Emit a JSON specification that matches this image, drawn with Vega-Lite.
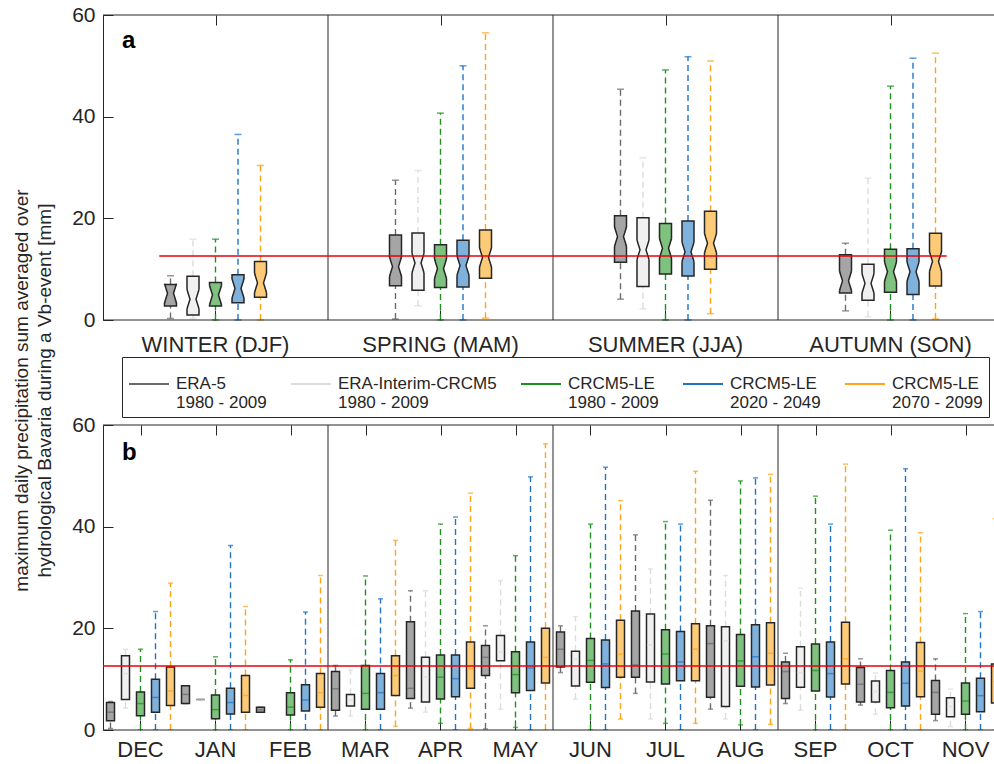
{
  "$schema": "https://vega.github.io/schema/vega-lite/v6.json",
  "background": "white",
  "padding": {"left": 12, "top": 4, "right": 0, "bottom": 0},
  "bounds": "flush",
  "spacing": 105,
  "config": {
    "font": "Liberation Sans, Arial, Helvetica, sans-serif",
    "view": {"stroke": null},
    "axis": {"grid": false, "domain": false, "ticks": true, "tickColor": "#262626", "tickWidth": 1, "tickSize": -10, "labelColor": "#262626", "labelFontSize": 21, "titleColor": "#262626"},
    "axisLeft": {"domain": true, "domainColor": "#262626", "domainWidth": 1, "labelPadding": 18, "labelFontSize": 21, "titleFontSize": 19, "titleFontWeight": "normal", "titleLineHeight": 23, "titleAngle": -90, "titleX": -91, "titleY": 375, "titleAlign": "center", "titleBaseline": "top"}
  },
  "resolve": {"scale": {"xOffset": "independent", "color": "shared", "fill": "shared"}},
  "datasets": {
    "seasons": [
      {"p": "WINTER (DJF)", "s": "ERA-5|1980 - 2009", "lo": 0.3, "q1": 2.75, "md": 5.25, "q3": 7.0, "hi": 8.7},
      {"p": "WINTER (DJF)", "s": "ERA-Interim-CRCM5|1980 - 2009", "lo": 0.3, "q1": 1.0, "md": 4.1, "q3": 8.6, "hi": 15.9},
      {"p": "WINTER (DJF)", "s": "CRCM5-LE|1980 - 2009", "lo": 0, "q1": 2.75, "md": 4.9, "q3": 7.4, "hi": 15.9},
      {"p": "WINTER (DJF)", "s": "CRCM5-LE|2020 - 2049", "lo": 0, "q1": 3.4, "md": 6.2, "q3": 8.9, "hi": 36.5},
      {"p": "WINTER (DJF)", "s": "CRCM5-LE|2070 - 2099", "lo": 0, "q1": 4.5, "md": 7.3, "q3": 11.5, "hi": 30.4},
      {"p": "SPRING (MAM)", "s": "ERA-5|1980 - 2009", "lo": 0.2, "q1": 6.75, "md": 10.5, "q3": 16.7, "hi": 27.5},
      {"p": "SPRING (MAM)", "s": "ERA-Interim-CRCM5|1980 - 2009", "lo": 2.8, "q1": 5.85, "md": 11.2, "q3": 17.1, "hi": 29.4},
      {"p": "SPRING (MAM)", "s": "CRCM5-LE|1980 - 2009", "lo": 0, "q1": 6.4, "md": 10.1, "q3": 14.8, "hi": 40.7},
      {"p": "SPRING (MAM)", "s": "CRCM5-LE|2020 - 2049", "lo": 0, "q1": 6.5, "md": 10.7, "q3": 15.7, "hi": 50.0},
      {"p": "SPRING (MAM)", "s": "CRCM5-LE|2070 - 2099", "lo": 0.35, "q1": 8.2, "md": 12.3, "q3": 17.7, "hi": 56.5},
      {"p": "SUMMER (JJA)", "s": "ERA-5|1980 - 2009", "lo": 4.1, "q1": 11.35, "md": 16.4, "q3": 20.5, "hi": 45.4},
      {"p": "SUMMER (JJA)", "s": "ERA-Interim-CRCM5|1980 - 2009", "lo": 2.2, "q1": 6.6, "md": 13.8, "q3": 20.1, "hi": 31.9},
      {"p": "SUMMER (JJA)", "s": "CRCM5-LE|1980 - 2009", "lo": 0, "q1": 9.05, "md": 14.1, "q3": 19.0, "hi": 49.2},
      {"p": "SUMMER (JJA)", "s": "CRCM5-LE|2020 - 2049", "lo": 0, "q1": 8.65, "md": 13.4, "q3": 19.5, "hi": 51.8},
      {"p": "SUMMER (JJA)", "s": "CRCM5-LE|2070 - 2099", "lo": 1.25, "q1": 10.0, "md": 15.1, "q3": 21.4, "hi": 50.95},
      {"p": "AUTUMN (SON)", "s": "ERA-5|1980 - 2009", "lo": 1.8, "q1": 5.3, "md": 7.7, "q3": 12.85, "hi": 15.1},
      {"p": "AUTUMN (SON)", "s": "ERA-Interim-CRCM5|1980 - 2009", "lo": 0.65, "q1": 3.9, "md": 7.2, "q3": 10.95, "hi": 27.9},
      {"p": "AUTUMN (SON)", "s": "CRCM5-LE|1980 - 2009", "lo": 0, "q1": 5.45, "md": 9.5, "q3": 13.9, "hi": 46.0},
      {"p": "AUTUMN (SON)", "s": "CRCM5-LE|2020 - 2049", "lo": 0, "q1": 5.0, "md": 9.5, "q3": 14.0, "hi": 51.5},
      {"p": "AUTUMN (SON)", "s": "CRCM5-LE|2070 - 2099", "lo": 0.2, "q1": 6.7, "md": 11.5, "q3": 17.05, "hi": 52.5}
    ],
    "months": [
      {"p": "DEC", "s": "ERA-5|1980 - 2009", "lo": 0.3, "q1": 1.8, "md": 3.5, "q3": 5.4, "hi": 5.6},
      {"p": "DEC", "s": "ERA-Interim-CRCM5|1980 - 2009", "lo": 4.3, "q1": 6.0, "md": 11.1, "q3": 14.6, "hi": 15.9},
      {"p": "DEC", "s": "CRCM5-LE|1980 - 2009", "lo": 0, "q1": 2.8, "md": 5.2, "q3": 7.5, "hi": 15.9},
      {"p": "DEC", "s": "CRCM5-LE|2020 - 2049", "lo": 0, "q1": 3.5, "md": 6.4, "q3": 10.0, "hi": 23.3},
      {"p": "DEC", "s": "CRCM5-LE|2070 - 2099", "lo": 0, "q1": 4.8, "md": 7.7, "q3": 12.4, "hi": 28.9},
      {"p": "JAN", "s": "ERA-5|1980 - 2009", "lo": 5.2, "q1": 5.2, "md": 7.0, "q3": 8.7, "hi": 8.7},
      {"p": "JAN", "s": "ERA-Interim-CRCM5|1980 - 2009", "lo": 6.0, "q1": 6.0, "md": 6.0, "q3": 6.0, "hi": 6.0},
      {"p": "JAN", "s": "CRCM5-LE|1980 - 2009", "lo": 0, "q1": 2.2, "md": 4.0, "q3": 6.9, "hi": 14.4},
      {"p": "JAN", "s": "CRCM5-LE|2020 - 2049", "lo": 0, "q1": 3.15, "md": 5.4, "q3": 8.2, "hi": 36.3},
      {"p": "JAN", "s": "CRCM5-LE|2070 - 2099", "lo": 0, "q1": 3.5, "md": 6.8, "q3": 10.7, "hi": 24.3},
      {"p": "FEB", "s": "ERA-5|1980 - 2009", "lo": 3.5, "q1": 3.5, "md": 4.0, "q3": 4.5, "hi": 4.5},
      {"p": "FEB", "s": "CRCM5-LE|1980 - 2009", "lo": 0, "q1": 2.95, "md": 4.5, "q3": 7.35, "hi": 13.8},
      {"p": "FEB", "s": "CRCM5-LE|2020 - 2049", "lo": 0, "q1": 3.75, "md": 5.9, "q3": 8.9, "hi": 23.2},
      {"p": "FEB", "s": "CRCM5-LE|2070 - 2099", "lo": 0, "q1": 4.5, "md": 7.35, "q3": 11.1, "hi": 30.4},
      {"p": "MAR", "s": "ERA-5|1980 - 2009", "lo": 2.75, "q1": 3.9, "md": 8.1, "q3": 11.5, "hi": 12.7},
      {"p": "MAR", "s": "ERA-Interim-CRCM5|1980 - 2009", "lo": 2.75, "q1": 4.7, "md": 5.85, "q3": 7.0, "hi": 11.8},
      {"p": "MAR", "s": "CRCM5-LE|1980 - 2009", "lo": 0, "q1": 4.1, "md": 7.2, "q3": 12.7, "hi": 30.3},
      {"p": "MAR", "s": "CRCM5-LE|2020 - 2049", "lo": 0, "q1": 4.1, "md": 7.35, "q3": 11.1, "hi": 25.8},
      {"p": "MAR", "s": "CRCM5-LE|2070 - 2099", "lo": 0.7, "q1": 6.8, "md": 10.7, "q3": 14.6, "hi": 37.3},
      {"p": "APR", "s": "ERA-5|1980 - 2009", "lo": 4.3, "q1": 6.2, "md": 8.2, "q3": 21.3, "hi": 27.4},
      {"p": "APR", "s": "ERA-Interim-CRCM5|1980 - 2009", "lo": 3.5, "q1": 5.5, "md": 10.4, "q3": 14.3, "hi": 27.4},
      {"p": "APR", "s": "CRCM5-LE|1980 - 2009", "lo": 1.3, "q1": 6.1, "md": 10.4, "q3": 14.75, "hi": 40.5},
      {"p": "APR", "s": "CRCM5-LE|2020 - 2049", "lo": 0, "q1": 6.55, "md": 10.1, "q3": 14.75, "hi": 41.9},
      {"p": "APR", "s": "CRCM5-LE|2070 - 2099", "lo": 0.3, "q1": 8.2, "md": 12.05, "q3": 17.3, "hi": 46.6},
      {"p": "MAY", "s": "ERA-5|1980 - 2009", "lo": 0.2, "q1": 10.7, "md": 14.3, "q3": 16.6, "hi": 20.5},
      {"p": "MAY", "s": "ERA-Interim-CRCM5|1980 - 2009", "lo": 4.1, "q1": 13.6, "md": 15.3, "q3": 18.6, "hi": 29.4},
      {"p": "MAY", "s": "CRCM5-LE|1980 - 2009", "lo": 0.5, "q1": 7.35, "md": 10.9, "q3": 15.4, "hi": 34.3},
      {"p": "MAY", "s": "CRCM5-LE|2020 - 2049", "lo": 0, "q1": 7.75, "md": 12.2, "q3": 17.3, "hi": 49.8},
      {"p": "MAY", "s": "CRCM5-LE|2070 - 2099", "lo": 0, "q1": 9.25, "md": 14.3, "q3": 20.0, "hi": 56.3},
      {"p": "JUN", "s": "ERA-5|1980 - 2009", "lo": 11.3, "q1": 12.4, "md": 15.9, "q3": 19.3, "hi": 20.5},
      {"p": "JUN", "s": "ERA-Interim-CRCM5|1980 - 2009", "lo": 6.1, "q1": 8.65, "md": 13.9, "q3": 15.5, "hi": 22.3},
      {"p": "JUN", "s": "CRCM5-LE|1980 - 2009", "lo": 0, "q1": 9.4, "md": 13.7, "q3": 18.0, "hi": 40.5},
      {"p": "JUN", "s": "CRCM5-LE|2020 - 2049", "lo": 0, "q1": 8.35, "md": 13.0, "q3": 17.7, "hi": 51.7},
      {"p": "JUN", "s": "CRCM5-LE|2070 - 2099", "lo": 2.15, "q1": 10.4, "md": 14.9, "q3": 21.6, "hi": 45.1},
      {"p": "JUL", "s": "ERA-5|1980 - 2009", "lo": 7.2, "q1": 10.4, "md": 12.8, "q3": 23.4, "hi": 38.4},
      {"p": "JUL", "s": "ERA-Interim-CRCM5|1980 - 2009", "lo": 2.15, "q1": 9.45, "md": 16.7, "q3": 22.8, "hi": 31.7},
      {"p": "JUL", "s": "CRCM5-LE|1980 - 2009", "lo": 1.3, "q1": 9.05, "md": 14.95, "q3": 19.7, "hi": 41.0},
      {"p": "JUL", "s": "CRCM5-LE|2020 - 2049", "lo": 0, "q1": 9.7, "md": 13.4, "q3": 19.4, "hi": 40.5},
      {"p": "JUL", "s": "CRCM5-LE|2070 - 2099", "lo": 1.3, "q1": 9.7, "md": 15.9, "q3": 20.9, "hi": 50.9},
      {"p": "AUG", "s": "ERA-5|1980 - 2009", "lo": 4.1, "q1": 6.45, "md": 17.0, "q3": 20.5, "hi": 45.2},
      {"p": "AUG", "s": "ERA-Interim-CRCM5|1980 - 2009", "lo": 2.15, "q1": 4.6, "md": 17.5, "q3": 20.3, "hi": 30.4},
      {"p": "AUG", "s": "CRCM5-LE|1980 - 2009", "lo": 1.0, "q1": 8.6, "md": 13.6, "q3": 18.8, "hi": 49.0},
      {"p": "AUG", "s": "CRCM5-LE|2020 - 2049", "lo": 0, "q1": 8.45, "md": 14.4, "q3": 20.7, "hi": 49.6},
      {"p": "AUG", "s": "CRCM5-LE|2070 - 2099", "lo": 1.1, "q1": 8.85, "md": 15.1, "q3": 21.1, "hi": 50.3},
      {"p": "SEP", "s": "ERA-5|1980 - 2009", "lo": 5.2, "q1": 6.2, "md": 11.5, "q3": 13.4, "hi": 15.1},
      {"p": "SEP", "s": "ERA-Interim-CRCM5|1980 - 2009", "lo": 3.9, "q1": 8.4, "md": 11.3, "q3": 16.4, "hi": 27.9},
      {"p": "SEP", "s": "CRCM5-LE|1980 - 2009", "lo": 0, "q1": 7.65, "md": 11.7, "q3": 16.9, "hi": 46.0},
      {"p": "SEP", "s": "CRCM5-LE|2020 - 2049", "lo": 0, "q1": 6.5, "md": 11.1, "q3": 17.3, "hi": 40.5},
      {"p": "SEP", "s": "CRCM5-LE|2070 - 2099", "lo": 0, "q1": 9.05, "md": 14.0, "q3": 21.2, "hi": 52.3},
      {"p": "OCT", "s": "ERA-5|1980 - 2009", "lo": 4.9, "q1": 5.5, "md": 9.0, "q3": 12.3, "hi": 14.0},
      {"p": "OCT", "s": "ERA-Interim-CRCM5|1980 - 2009", "lo": 3.1, "q1": 5.5, "md": 7.55, "q3": 9.65, "hi": 11.2},
      {"p": "OCT", "s": "CRCM5-LE|1980 - 2009", "lo": 0, "q1": 4.4, "md": 7.4, "q3": 11.7, "hi": 39.3},
      {"p": "OCT", "s": "CRCM5-LE|2020 - 2049", "lo": 0, "q1": 4.7, "md": 9.2, "q3": 13.4, "hi": 51.4},
      {"p": "OCT", "s": "CRCM5-LE|2070 - 2099", "lo": 0, "q1": 6.55, "md": 11.6, "q3": 17.2, "hi": 38.8},
      {"p": "NOV", "s": "ERA-5|1980 - 2009", "lo": 1.85, "q1": 3.1, "md": 7.4, "q3": 9.75, "hi": 14.0},
      {"p": "NOV", "s": "ERA-Interim-CRCM5|1980 - 2009", "lo": 0.65, "q1": 2.6, "md": 4.6, "q3": 6.35, "hi": 8.05},
      {"p": "NOV", "s": "CRCM5-LE|1980 - 2009", "lo": 0, "q1": 3.1, "md": 5.7, "q3": 9.25, "hi": 22.9},
      {"p": "NOV", "s": "CRCM5-LE|2020 - 2049", "lo": 0, "q1": 3.6, "md": 6.75, "q3": 10.2, "hi": 23.3},
      {"p": "NOV", "s": "CRCM5-LE|2070 - 2099", "lo": 0, "q1": 5.3, "md": 9.5, "q3": 13.0, "hi": 41.6}
    ],
    "sepA": [{"b": 1}, {"b": 2}, {"b": 3}],
    "sepB": [{"b": 3}, {"b": 6}, {"b": 9}],
    "frame": [{"v": 0}, {"v": 60}],
    "refA": [{"x1": 0.25, "x2": 3.75, "v": 12.6}],
    "refB": [{"x1": 0, "x2": 12, "v": 12.6}],
    "labA": [{"t": "a", "x": 0, "y": 60}],
    "labB": [{"t": "b", "x": 0, "y": 60}]
  },
  "vconcat": [
    {
      "width": 891,
      "height": 305,
      "resolve": {"scale": {"x": "independent"}},
      "layer": [
        {
          "data": {"name": "seasons"},
          "encoding": {
            "x": {"field": "p", "type": "nominal", "title": null, "scale": {"domain": ["WINTER (DJF)", "SPRING (MAM)", "SUMMER (JJA)", "AUTUMN (SON)"], "range": [0, 900], "paddingInner": 0.5, "paddingOuter": 0.25}, "axis": {"orient": "bottom", "labelFontSize": 22, "labelPadding": 24, "labelAngle": 0, "tickSize": -10}},
            "xOffset": {"field": "s", "type": "nominal", "scale": {"domain": ["ERA-5|1980 - 2009", "ERA-Interim-CRCM5|1980 - 2009", "CRCM5-LE|1980 - 2009", "CRCM5-LE|2020 - 2049", "CRCM5-LE|2070 - 2099"], "paddingInner": 0.4667, "paddingOuter": 0.2333}}
          },
          "layer": [
            {"mark": {"type": "rule", "strokeDash": [6, 4], "strokeWidth": 1.4}, "encoding": {"y": {"field": "lo", "type": "quantitative", "scale": {"domain": [0, 60], "nice": false}, "axis": {"orient": "left", "values": [0, 20, 40, 60], "title": ["maximum daily precipitation sum averaged over", "hydrological Bavaria during a Vb-event [mm]"]}}, "y2": {"field": "q1"}, "color": {"field": "s", "type": "nominal", "scale": {"domain": ["ERA-5|1980 - 2009", "ERA-Interim-CRCM5|1980 - 2009", "CRCM5-LE|1980 - 2009", "CRCM5-LE|2020 - 2049", "CRCM5-LE|2070 - 2099"], "range": ["#6b6b6b", "#dcdcdc", "#1f8f1f", "#1f74c8", "#ffa31a"]}, "legend": {"orient": "none", "legendX": 19, "legendY": 342, "direction": "horizontal", "title": null, "symbolType": "stroke", "symbolSize": 1600, "symbolStrokeWidth": 2, "symbolDash": [1, 0], "labelExpr": "split(datum.label, '|')", "labelFontSize": 17, "labelColor": "#262626", "labelLimit": 0, "labelOffset": 6, "labelBaseline": "middle", "labelLineHeight": 28, "columnPadding": 20, "padding": 6, "strokeColor": "#262626"}}}},
            {"mark": {"type": "rule", "strokeDash": [6, 4], "strokeWidth": 1.4}, "encoding": {"y": {"field": "q3", "type": "quantitative", "scale": {"domain": [0, 60], "nice": false}, "axis": {"orient": "left", "values": [0, 20, 40, 60], "title": ["maximum daily precipitation sum averaged over", "hydrological Bavaria during a Vb-event [mm]"]}}, "y2": {"field": "hi"}, "color": {"field": "s", "type": "nominal", "legend": null}}},
            {"mark": {"type": "tick", "size": 7, "thickness": 1.5}, "encoding": {"y": {"field": "lo", "type": "quantitative", "scale": {"domain": [0, 60], "nice": false}, "axis": {"orient": "left", "values": [0, 20, 40, 60], "title": ["maximum daily precipitation sum averaged over", "hydrological Bavaria during a Vb-event [mm]"]}}, "color": {"field": "s", "type": "nominal", "legend": null}}},
            {"mark": {"type": "tick", "size": 7, "thickness": 1.5}, "encoding": {"y": {"field": "hi", "type": "quantitative", "scale": {"domain": [0, 60], "nice": false}, "axis": {"orient": "left", "values": [0, 20, 40, 60], "title": ["maximum daily precipitation sum averaged over", "hydrological Bavaria during a Vb-event [mm]"]}}, "color": {"field": "s", "type": "nominal", "legend": null}}},
            {"mark": {"type": "bar", "stroke": "#262626", "strokeWidth": 1.5}, "encoding": {
              "y": {"field": "q1", "type": "quantitative", "scale": {"domain": [0, 60], "nice": false}, "axis": {"orient": "left", "values": [0, 20, 40, 60], "title": ["maximum daily precipitation sum averaged over", "hydrological Bavaria during a Vb-event [mm]"]}},
              "y2": {"field": "q3"},
              "fill": {"field": "s", "type": "nominal", "scale": {"domain": ["ERA-5|1980 - 2009", "ERA-Interim-CRCM5|1980 - 2009", "CRCM5-LE|1980 - 2009", "CRCM5-LE|2020 - 2049", "CRCM5-LE|2070 - 2099"], "range": ["#a5a5a5", "#f0f0f0", "#7fc27f", "#7fb1dd", "#fdcb77"]}, "legend": null}}},
            {"mark": {"type": "point", "shape": "M -1.35 -1.6 L -1 -1.6 L -0.5 0 L -1 1.6 L -1.35 1.6 Z M 1.35 -1.6 L 1 -1.6 L 0.5 0 L 1 1.6 L 1.35 1.6 Z", "size": 144, "filled": true, "fill": "white", "strokeWidth": 0, "opacity": 1}, "encoding": {"y": {"field": "md", "type": "quantitative", "scale": {"domain": [0, 60], "nice": false}, "axis": {"orient": "left", "values": [0, 20, 40, 60], "title": ["maximum daily precipitation sum averaged over", "hydrological Bavaria during a Vb-event [mm]"]}}}},
            {"mark": {"type": "point", "shape": "M -1 -1.6 L -0.5 0 L -1 1.6 M 1 -1.6 L 0.5 0 L 1 1.6", "size": 144, "filled": false, "stroke": "#262626", "strokeWidth": 1.5, "opacity": 1}, "encoding": {"y": {"field": "md", "type": "quantitative", "scale": {"domain": [0, 60], "nice": false}, "axis": {"orient": "left", "values": [0, 20, 40, 60], "title": ["maximum daily precipitation sum averaged over", "hydrological Bavaria during a Vb-event [mm]"]}}}}
          ]
        },
        {
          "layer": [
            {"data": {"name": "frame"}, "mark": {"type": "rule", "color": "#262626", "strokeWidth": 1}, "encoding": {"y": {"field": "v", "type": "quantitative", "scale": {"domain": [0, 60], "nice": false}, "axis": {"orient": "left", "values": [0, 20, 40, 60], "title": ["maximum daily precipitation sum averaged over", "hydrological Bavaria during a Vb-event [mm]"]}}}},
            {"data": {"name": "sepA"}, "mark": {"type": "rule", "color": "#262626", "strokeWidth": 1}, "encoding": {"x": {"field": "b", "type": "quantitative", "scale": {"domain": [0, 4], "range": [0, 900], "nice": false, "zero": false}, "axis": {"orient": "top", "values": [0.5, 1.5, 2.5, 3.5], "labels": false, "tickSize": -10, "title": null, "domain": false}}}},
            {"data": {"name": "refA"}, "mark": {"type": "rule", "color": "#e8000b", "strokeWidth": 1.5, "clip": true}, "encoding": {"x": {"field": "x1", "type": "quantitative", "scale": {"nice": false}, "axis": {"orient": "top", "values": [0.5, 1.5, 2.5, 3.5], "labels": false, "tickSize": -10, "title": null, "domain": false}}, "x2": {"field": "x2"}, "y": {"field": "v", "type": "quantitative", "scale": {"domain": [0, 60], "nice": false}, "axis": {"orient": "left", "values": [0, 20, 40, 60], "title": ["maximum daily precipitation sum averaged over", "hydrological Bavaria during a Vb-event [mm]"]}}}},
            {"data": {"name": "labA"}, "mark": {"type": "text", "align": "left", "baseline": "alphabetic", "dx": 19, "dy": 33, "fontSize": 24, "fontWeight": "bold", "color": "black"}, "encoding": {"x": {"field": "x", "type": "quantitative", "axis": {"orient": "top", "values": [0.5, 1.5, 2.5, 3.5], "labels": false, "tickSize": -10, "title": null, "domain": false}}, "y": {"field": "y", "type": "quantitative", "scale": {"domain": [0, 60], "nice": false}, "axis": {"orient": "left", "values": [0, 20, 40, 60], "title": ["maximum daily precipitation sum averaged over", "hydrological Bavaria during a Vb-event [mm]"]}}, "text": {"field": "t"}}}
          ]
        }
      ]
    },
    {
      "width": 891,
      "height": 305,
      "resolve": {"scale": {"x": "independent"}},
      "layer": [
        {
          "data": {"name": "months"},
          "encoding": {
            "x": {"field": "p", "type": "nominal", "title": null, "scale": {"domain": ["DEC", "JAN", "FEB", "MAR", "APR", "MAY", "JUN", "JUL", "AUG", "SEP", "OCT", "NOV"], "range": [0, 900], "paddingInner": 0, "paddingOuter": 0}, "axis": {"orient": "bottom", "labelFontSize": 22, "labelPadding": 19, "labelAngle": 0, "tickSize": -10}},
            "xOffset": {"field": "s", "type": "nominal", "scale": {"domain": ["ERA-5|1980 - 2009", "ERA-Interim-CRCM5|1980 - 2009", "CRCM5-LE|1980 - 2009", "CRCM5-LE|2020 - 2049", "CRCM5-LE|2070 - 2099"], "paddingInner": 0.4667, "paddingOuter": 0.2333}}
          },
          "layer": [
            {"mark": {"type": "rule", "strokeDash": [6, 4], "strokeWidth": 1.4, "clip": true}, "encoding": {"y": {"field": "lo", "type": "quantitative", "scale": {"domain": [0, 60], "nice": false}, "axis": {"orient": "left", "values": [0, 20, 40, 60], "title": null}}, "y2": {"field": "q1"}, "color": {"field": "s", "type": "nominal", "scale": {"domain": ["ERA-5|1980 - 2009", "ERA-Interim-CRCM5|1980 - 2009", "CRCM5-LE|1980 - 2009", "CRCM5-LE|2020 - 2049", "CRCM5-LE|2070 - 2099"], "range": ["#6b6b6b", "#dcdcdc", "#1f8f1f", "#1f74c8", "#ffa31a"]}, "legend": null}}},
            {"mark": {"type": "rule", "strokeDash": [6, 4], "strokeWidth": 1.4, "clip": true}, "encoding": {"y": {"field": "q3", "type": "quantitative", "scale": {"domain": [0, 60], "nice": false}, "axis": {"orient": "left", "values": [0, 20, 40, 60], "title": null}}, "y2": {"field": "hi"}, "color": {"field": "s", "type": "nominal", "legend": null}}},
            {"mark": {"type": "tick", "size": 5, "thickness": 1.5, "clip": true}, "encoding": {"y": {"field": "lo", "type": "quantitative", "scale": {"domain": [0, 60], "nice": false}, "axis": {"orient": "left", "values": [0, 20, 40, 60], "title": null}}, "color": {"field": "s", "type": "nominal", "legend": null}}},
            {"mark": {"type": "tick", "size": 5, "thickness": 1.5, "clip": true}, "encoding": {"y": {"field": "hi", "type": "quantitative", "scale": {"domain": [0, 60], "nice": false}, "axis": {"orient": "left", "values": [0, 20, 40, 60], "title": null}}, "color": {"field": "s", "type": "nominal", "legend": null}}},
            {"mark": {"type": "bar", "stroke": "#262626", "strokeWidth": 1.5, "clip": true}, "encoding": {
              "y": {"field": "q1", "type": "quantitative", "scale": {"domain": [0, 60], "nice": false}, "axis": {"orient": "left", "values": [0, 20, 40, 60], "title": null}},
              "y2": {"field": "q3"},
              "fill": {"field": "s", "type": "nominal", "scale": {"domain": ["ERA-5|1980 - 2009", "ERA-Interim-CRCM5|1980 - 2009", "CRCM5-LE|1980 - 2009", "CRCM5-LE|2020 - 2049", "CRCM5-LE|2070 - 2099"], "range": ["#a5a5a5", "#f0f0f0", "#7fc27f", "#7fb1dd", "#fdcb77"]}, "legend": null}}},
            {"mark": {"type": "tick", "size": 7, "thickness": 1.5, "clip": true}, "encoding": {"y": {"field": "md", "type": "quantitative", "scale": {"domain": [0, 60], "nice": false}, "axis": {"orient": "left", "values": [0, 20, 40, 60], "title": null}}, "color": {"field": "s", "type": "nominal", "legend": null}}}
          ]
        },
        {
          "layer": [
            {"data": {"name": "frame"}, "mark": {"type": "rule", "color": "#262626", "strokeWidth": 1}, "encoding": {"y": {"field": "v", "type": "quantitative", "scale": {"domain": [0, 60], "nice": false}, "axis": {"orient": "left", "values": [0, 20, 40, 60], "title": null}}}},
            {"data": {"name": "sepB"}, "mark": {"type": "rule", "color": "#262626", "strokeWidth": 1}, "encoding": {"x": {"field": "b", "type": "quantitative", "scale": {"domain": [0, 12], "range": [0, 900], "nice": false, "zero": false}, "axis": {"orient": "top", "values": [0.5, 1.5, 2.5, 3.5, 4.5, 5.5, 6.5, 7.5, 8.5, 9.5, 10.5, 11.5], "labels": false, "tickSize": -10, "title": null, "domain": false}}}},
            {"data": {"name": "refB"}, "mark": {"type": "rule", "color": "#e8000b", "strokeWidth": 1.5, "clip": true}, "encoding": {"x": {"field": "x1", "type": "quantitative", "scale": {"nice": false}, "axis": {"orient": "top", "values": [0.5, 1.5, 2.5, 3.5, 4.5, 5.5, 6.5, 7.5, 8.5, 9.5, 10.5, 11.5], "labels": false, "tickSize": -10, "title": null, "domain": false}}, "x2": {"field": "x2"}, "y": {"field": "v", "type": "quantitative", "scale": {"domain": [0, 60], "nice": false}, "axis": {"orient": "left", "values": [0, 20, 40, 60], "title": null}}}},
            {"data": {"name": "labB"}, "mark": {"type": "text", "align": "left", "baseline": "alphabetic", "dx": 19, "dy": 35, "fontSize": 24, "fontWeight": "bold", "color": "black"}, "encoding": {"x": {"field": "x", "type": "quantitative", "axis": {"orient": "top", "values": [0.5, 1.5, 2.5, 3.5, 4.5, 5.5, 6.5, 7.5, 8.5, 9.5, 10.5, 11.5], "labels": false, "tickSize": -10, "title": null, "domain": false}}, "y": {"field": "y", "type": "quantitative", "scale": {"domain": [0, 60], "nice": false}, "axis": {"orient": "left", "values": [0, 20, 40, 60], "title": null}}, "text": {"field": "t"}}}
          ]
        }
      ]
    }
  ]
}
